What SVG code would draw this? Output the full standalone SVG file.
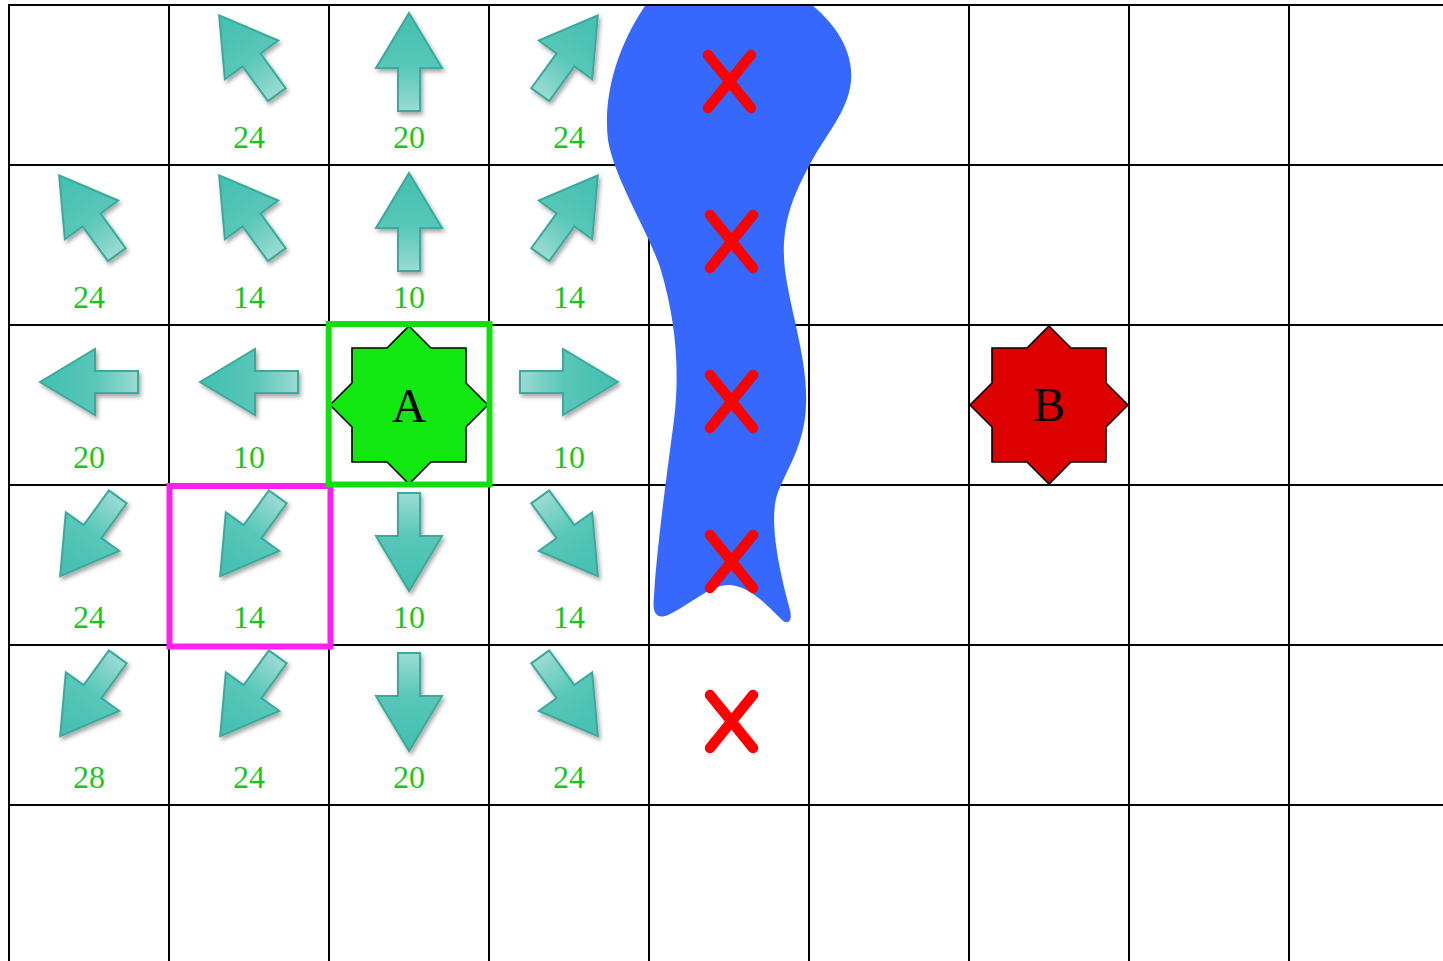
<svg xmlns="http://www.w3.org/2000/svg" xmlns:xlink="http://www.w3.org/1999/xlink" width="1443" height="961" viewBox="0 0 1443 961">
  <style>
    .grid line { stroke: #000; stroke-width: 2; }
    .cost { font-family: "Liberation Serif", "Times New Roman", serif; font-size: 32px; fill: #1ec41e; text-anchor: middle; }
    .big { font-family: "Liberation Serif", "Times New Roman", serif; font-size: 48px; fill: #000; text-anchor: middle; }
    .xmark { stroke: #ff0000; stroke-width: 10.5; stroke-linecap: round; fill: none; }
    .star { stroke: #000; stroke-width: 1.6; stroke-linejoin: miter; }
    .arrow { filter: url(#shadow); }
  </style>
  <defs>
    <linearGradient id="arrGrad" gradientUnits="userSpaceOnUse" x1="0" y1="-49" x2="0" y2="49">
      <stop offset="0" stop-color="#42bfb0"/>
      <stop offset="0.55" stop-color="#58c7b9"/>
      <stop offset="1" stop-color="#9cdbd2"/>
    </linearGradient>
    <filter id="shadow" x="-30%" y="-30%" width="160%" height="160%">
      <feDropShadow dx="2" dy="3" stdDeviation="2" flood-color="#000" flood-opacity="0.35"/>
    </filter>
    <path id="arr" d="M0,-49 L33,6 L11,6 L11,49 L-11,49 L-11,6 L-33,6 Z" fill="url(#arrGrad)" stroke="#3aa99c" stroke-width="2" stroke-linejoin="miter"/>
    <polygon id="star8" points="0,-79 22,-57 57,-57 57,-22 79,0 57,22 57,57 22,57 0,79 -22,57 -57,57 -57,22 -79,0 -57,-22 -57,-57 -22,-57"/>
  </defs>

  <rect x="0" y="0" width="1443" height="961" fill="#fff"/>

  <g id="grid" class="grid">
    <line x1="9" y1="5" x2="9" y2="961"/>
    <line x1="169" y1="5" x2="169" y2="961"/>
    <line x1="329" y1="5" x2="329" y2="961"/>
    <line x1="489" y1="5" x2="489" y2="961"/>
    <line x1="649" y1="5" x2="649" y2="961"/>
    <line x1="809" y1="5" x2="809" y2="961"/>
    <line x1="969" y1="5" x2="969" y2="961"/>
    <line x1="1129" y1="5" x2="1129" y2="961"/>
    <line x1="1289" y1="5" x2="1289" y2="961"/>
    <line x1="8" y1="165" x2="1443" y2="165"/>
    <line x1="8" y1="325" x2="1443" y2="325"/>
    <line x1="8" y1="485" x2="1443" y2="485"/>
    <line x1="8" y1="645" x2="1443" y2="645"/>
    <line x1="8" y1="805" x2="1443" y2="805"/>
  </g>

  <g id="river">
    <path fill="#3668fe" d="M645,6 L813,6 C840,28 856,58 850,88 C845,115 822,140 808,168 C792,198 780,228 785,270 C790,310 808,360 806,405 C805,445 786,470 777,495 C768,525 782,580 790,610 C793,622 787,626 780,618 C765,603 748,585 728,585 C710,585 690,605 668,615 C656,620 652,612 654,597 C656,555 666,480 674,420 C680,370 676,320 660,267 C645,225 615,180 608,140 C603,100 615,50 645,6 Z"/>
  </g>
  <line x1="8" y1="5" x2="1443" y2="5" stroke="#000" stroke-width="2"/>

  <g id="obstacles">
    <path class="xmark" d="M708,55 L751,108 M751,55 L708,108"/>
    <path class="xmark" d="M710,215 L753,268 M753,215 L710,268"/>
    <path class="xmark" d="M710,375 L753,428 M753,375 L710,428"/>
    <path class="xmark" d="M710,535 L753,588 M753,535 L710,588"/>
    <path class="xmark" d="M710,695 L753,748 M753,695 L710,748"/>
  </g>

  <g id="arrows">
    <g class="arrow" transform="translate(248,55)"><use xlink:href="#arr" href="#arr" transform="rotate(-36)"/></g>
    <g class="arrow" transform="translate(409,62)"><use xlink:href="#arr" href="#arr"/></g>
    <g class="arrow" transform="translate(569,55)"><use xlink:href="#arr" href="#arr" transform="rotate(36)"/></g>

    <g class="arrow" transform="translate(88,215)"><use xlink:href="#arr" href="#arr" transform="rotate(-36)"/></g>
    <g class="arrow" transform="translate(248,215)"><use xlink:href="#arr" href="#arr" transform="rotate(-36)"/></g>
    <g class="arrow" transform="translate(409,222)"><use xlink:href="#arr" href="#arr"/></g>
    <g class="arrow" transform="translate(569,215)"><use xlink:href="#arr" href="#arr" transform="rotate(36)"/></g>

    <g class="arrow" transform="translate(89,382)"><use xlink:href="#arr" href="#arr" transform="rotate(-90)"/></g>
    <g class="arrow" transform="translate(249,382)"><use xlink:href="#arr" href="#arr" transform="rotate(-90)"/></g>
    <g class="arrow" transform="translate(569,382)"><use xlink:href="#arr" href="#arr" transform="rotate(90)"/></g>

    <g class="arrow" transform="translate(89,536.5)"><use xlink:href="#arr" href="#arr" transform="rotate(-144)"/></g>
    <g class="arrow" transform="translate(249,536.5)"><use xlink:href="#arr" href="#arr" transform="rotate(-144)"/></g>
    <g class="arrow" transform="translate(409,542)"><use xlink:href="#arr" href="#arr" transform="rotate(180)"/></g>
    <g class="arrow" transform="translate(569,536.5)"><use xlink:href="#arr" href="#arr" transform="rotate(144)"/></g>

    <g class="arrow" transform="translate(89,696.5)"><use xlink:href="#arr" href="#arr" transform="rotate(-144)"/></g>
    <g class="arrow" transform="translate(249,696.5)"><use xlink:href="#arr" href="#arr" transform="rotate(-144)"/></g>
    <g class="arrow" transform="translate(409,702)"><use xlink:href="#arr" href="#arr" transform="rotate(180)"/></g>
    <g class="arrow" transform="translate(569,696.5)"><use xlink:href="#arr" href="#arr" transform="rotate(144)"/></g>
  </g>

  <g id="costs" class="cost">
    <text x="249" y="148">24</text>
    <text x="409" y="148">20</text>
    <text x="569" y="148">24</text>
    <text x="89" y="308">24</text>
    <text x="249" y="308">14</text>
    <text x="409" y="308">10</text>
    <text x="569" y="308">14</text>
    <text x="89" y="468">20</text>
    <text x="249" y="468">10</text>
    <text x="569" y="468">10</text>
    <text x="89" y="628">24</text>
    <text x="249" y="628">14</text>
    <text x="409" y="628">10</text>
    <text x="569" y="628">14</text>
    <text x="89" y="788">28</text>
    <text x="249" y="788">24</text>
    <text x="409" y="788">20</text>
    <text x="569" y="788">24</text>
  </g>

  <g id="nodeA">
    <use xlink:href="#star8" href="#star8" class="star" fill="#10e810" transform="translate(409,405)"/>
    <text class="big" x="409" y="422">A</text>
  </g>

  <g id="nodeB">
    <use xlink:href="#star8" href="#star8" class="star" fill="#dd0000" transform="translate(1049,405)"/>
    <text class="big" x="1049" y="421">B</text>
  </g>

  <g id="highlightMagenta">
    <rect x="169.5" y="486" width="161" height="160.5" fill="none" stroke="#fc1ff0" stroke-width="6"/>
  </g>
  <g id="highlightGreen">
    <rect x="328.7" y="324" width="160.8" height="160.5" fill="none" stroke="#10e010" stroke-width="6"/>
  </g>
</svg>
